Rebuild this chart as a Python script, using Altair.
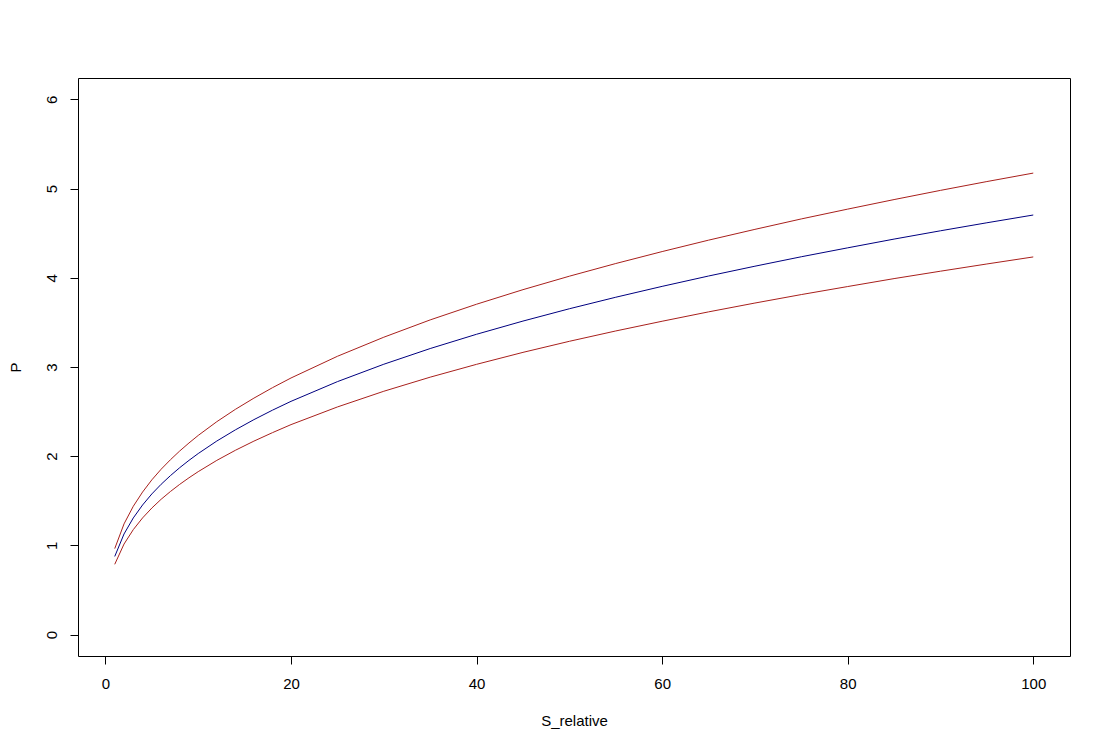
import altair as alt
import pandas as pd

s_relative = [1, 2, 3, 4, 5, 6, 7, 8, 9, 10, 12, 14, 16, 18, 20,
              25, 30, 35, 40, 45, 50, 55, 60, 65, 70, 75, 80, 85, 90, 95, 100]
p_mid = [0.876, 1.128, 1.308, 1.453, 1.577, 1.685, 1.782, 1.871, 1.953, 2.030,
         2.170, 2.295, 2.410, 2.516, 2.615, 2.836, 3.031, 3.207, 3.367, 3.515,
         3.653, 3.782, 3.904, 4.020, 4.130, 4.236, 4.336, 4.434, 4.527, 4.617, 4.704]
p_upper = [0.964, 1.241, 1.439, 1.598, 1.735, 1.854, 1.960, 2.058, 2.148, 2.233,
           2.387, 2.525, 2.651, 2.768, 2.877, 3.120, 3.334, 3.528, 3.704, 3.867,
           4.018, 4.160, 4.294, 4.422, 4.543, 4.660, 4.770, 4.877, 4.980, 5.079, 5.174]
p_lower = [0.788, 1.015, 1.177, 1.308, 1.419, 1.517, 1.604, 1.684, 1.758, 1.827,
           1.953, 2.066, 2.169, 2.264, 2.354, 2.552, 2.728, 2.886, 3.030, 3.164,
           3.288, 3.404, 3.513, 3.618, 3.717, 3.812, 3.902, 3.991, 4.074, 4.155, 4.234]
x_ticks = [0, 20, 40, 60, 80, 100]
y_ticks = [0, 1, 2, 3, 4, 5, 6]

rows = []
for name, vals in [("upper", p_upper), ("lower", p_lower), ("mid", p_mid)]:
    for x, v in zip(s_relative, vals):
        rows.append({"S_relative": x, "P": v, "series": name})
df = pd.DataFrame(rows)

FONT = "Liberation Sans"

xscale = alt.Scale(domain=[-2.96, 103.96], nice=False, zero=False)
yscale = alt.Scale(domain=[-0.24, 6.24], nice=False, zero=False)

xaxis = alt.Axis(values=x_ticks, grid=False, domain=False, tickSize=8,
                 tickColor="black", tickWidth=1, labelPadding=12,
                 labelFont=FONT, labelFontSize=15, labelColor="black",
                 title="S_relative", titleFont=FONT, titleFontSize=15,
                 titleFontWeight="normal", titleColor="black",
                 titleY=64, titleBaseline="middle", labelFlush=False)
yaxis = alt.Axis(values=y_ticks, grid=False, domain=False, tickSize=8,
                 tickColor="black", tickWidth=1, labelPadding=11,
                 labelAngle=270, labelAlign="center", labelBaseline="bottom",
                 labelFont=FONT, labelFontSize=15, labelColor="black",
                 title="P", titleFont=FONT, titleFontSize=15,
                 titleFontWeight="normal", titleColor="black",
                 titleAngle=270, titleX=-63, titleY=289,
                 titleBaseline="middle", titleAlign="center", labelFlush=False)

chart = alt.Chart(df).mark_line(strokeWidth=1, interpolate="linear").encode(
    x=alt.X("S_relative:Q", scale=xscale, axis=xaxis),
    y=alt.Y("P:Q", scale=yscale, axis=yaxis),
    color=alt.Color("series:N",
                    scale=alt.Scale(domain=["upper", "lower", "mid"],
                                    range=["#A8201C", "#A8201C", "#00007F"]),
                    legend=None),
    detail="series:N",
).properties(
    width=992,
    height=578,
    background="white",
    autosize=alt.AutoSizeParams(type="none"),
    padding={"left": 70, "top": 70, "right": 25, "bottom": 82},
).configure_view(
    stroke="black", strokeWidth=1, fill="white"
)

chart.save("out.html", embed_options={"renderer": "svg", "actions": False})
